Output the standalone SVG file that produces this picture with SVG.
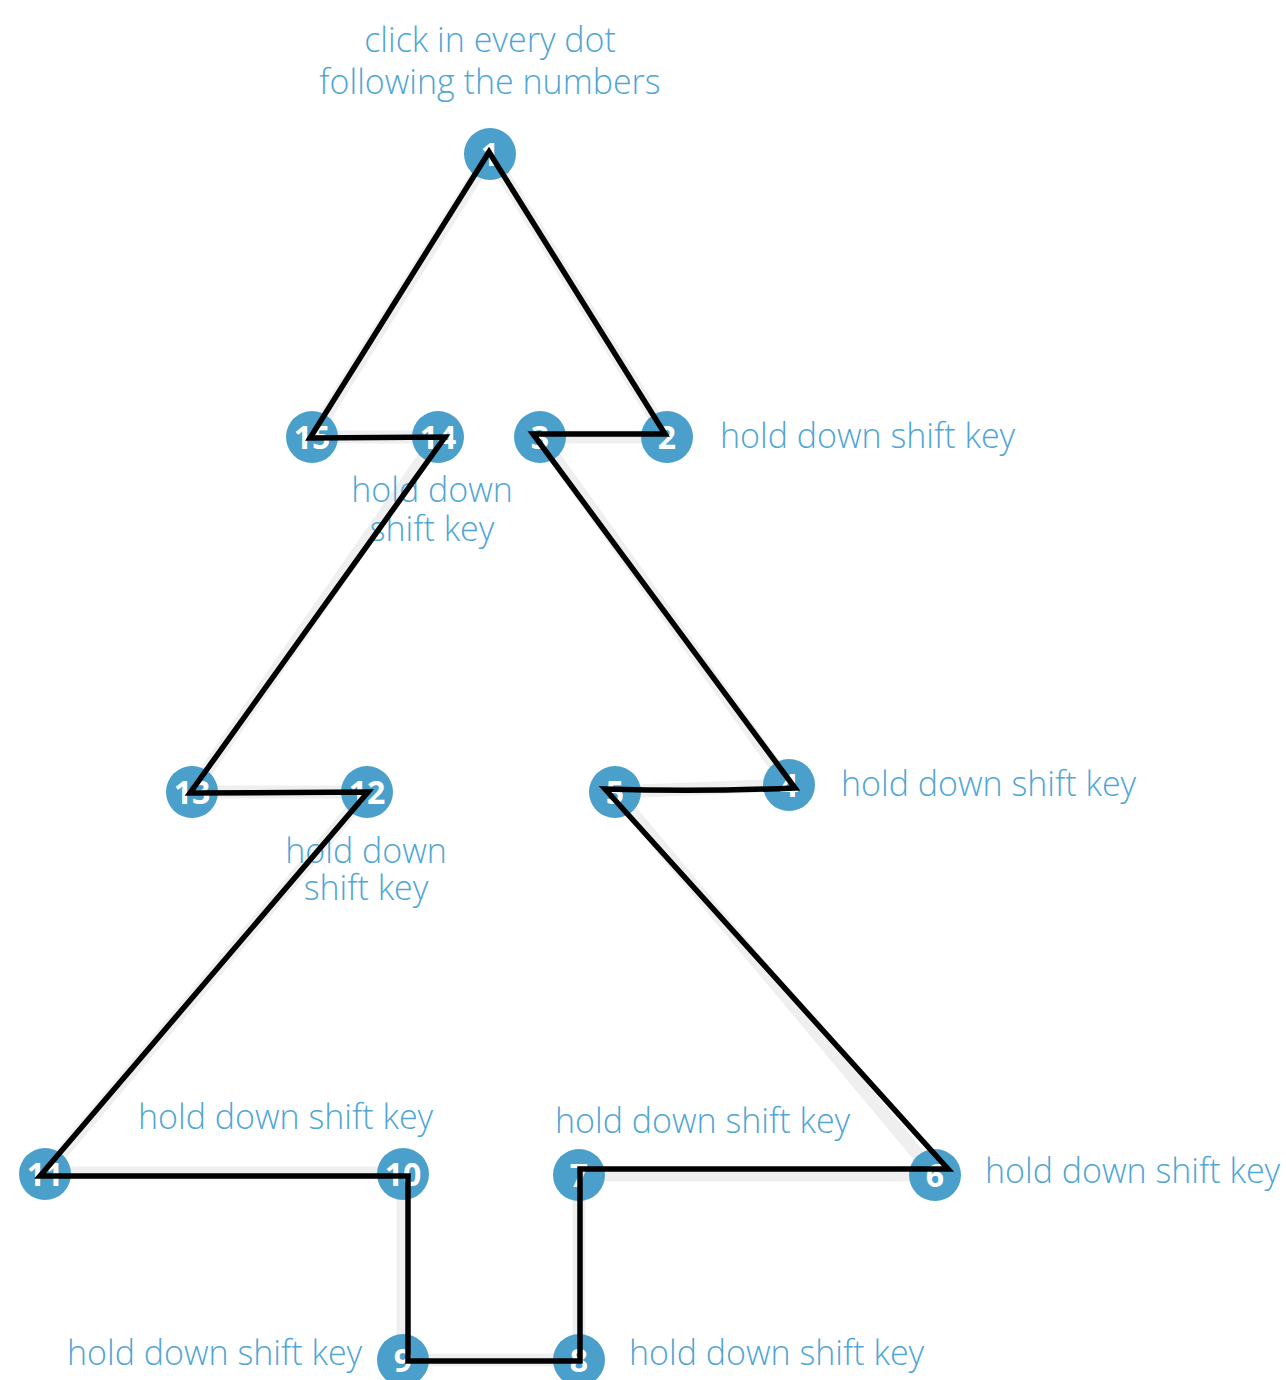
<svg xmlns="http://www.w3.org/2000/svg" width="1286" height="1380" viewBox="0 0 1286 1380">
<style>
.lbl{font-family:"Open Sans","Liberation Sans",sans-serif;font-weight:300;font-size:34px;fill:#4fa6d5}
.dot{fill:#4a9fcb}
.num{font-family:"Open Sans","Liberation Sans",sans-serif;font-weight:700;font-size:32px;fill:#ffffff;text-anchor:middle}
.shadow{fill:none;stroke:#efefef;stroke-width:13;stroke-linejoin:miter}
.pen{fill:none;stroke:#000;stroke-width:5.5;stroke-linejoin:miter;stroke-miterlimit:20}
</style>
<rect width="1286" height="1380" fill="#fff"/>
<g id="shadow">
<path class="shadow" d="M490,154 L667,437 L540,437 L789,785 L615,792 L935,1175 L579,1175 L579,1360 L403,1360 L403,1173 L45,1173 L367,792 L192,792 L438,437 L312,437 Z"/>
</g>
<g id="node1"><circle class="dot" cx="490" cy="154" r="26"/><text class="num" x="490" y="166">1</text></g>
<g id="node2"><circle class="dot" cx="667" cy="437" r="26"/><text class="num" x="667" y="449">2</text></g>
<g id="node3"><circle class="dot" cx="540" cy="437" r="26"/><text class="num" x="540" y="449">3</text></g>
<g id="node4"><circle class="dot" cx="789" cy="785" r="26"/><text class="num" x="789" y="797">4</text></g>
<g id="node5"><circle class="dot" cx="615" cy="792" r="26"/><text class="num" x="615" y="804">5</text></g>
<g id="node6"><circle class="dot" cx="935" cy="1175" r="26"/><text class="num" x="935" y="1187">6</text></g>
<g id="node7"><circle class="dot" cx="579" cy="1175" r="26"/><text class="num" x="579" y="1187">7</text></g>
<g id="node8"><circle class="dot" cx="579" cy="1360" r="26"/><text class="num" x="579" y="1372">8</text></g>
<g id="node9"><circle class="dot" cx="403" cy="1360" r="26"/><text class="num" x="403" y="1372">9</text></g>
<g id="node10"><circle class="dot" cx="403" cy="1174" r="26"/><text class="num" x="403" y="1186">10</text></g>
<g id="node11"><circle class="dot" cx="45" cy="1174" r="26"/><text class="num" x="45" y="1186">11</text></g>
<g id="node12"><circle class="dot" cx="367" cy="792" r="26"/><text class="num" x="367" y="804">12</text></g>
<g id="node13"><circle class="dot" cx="192" cy="792" r="26"/><text class="num" x="192" y="804">13</text></g>
<g id="node14"><circle class="dot" cx="438" cy="437" r="26"/><text class="num" x="438" y="449">14</text></g>
<g id="node15"><circle class="dot" cx="312" cy="437" r="26"/><text class="num" x="312" y="449">15</text></g>
<g id="labels">
<text class="lbl" text-anchor="middle"><tspan x="490" y="52">click in every dot</tspan><tspan x="490" y="94">following the numbers</tspan></text>
<text class="lbl" x="720" y="448">hold down shift key</text>
<text class="lbl" text-anchor="middle"><tspan x="432" y="502">hold down</tspan><tspan x="432" y="541">shift key</tspan></text>
<text class="lbl" x="841" y="796">hold down shift key</text>
<text class="lbl" text-anchor="middle"><tspan x="366" y="863">hold down</tspan><tspan x="366" y="900">shift key</tspan></text>
<text class="lbl" x="138" y="1129">hold down shift key</text>
<text class="lbl" x="555" y="1133">hold down shift key</text>
<text class="lbl" x="985" y="1183">hold down shift key</text>
<text class="lbl" x="67" y="1365">hold down shift key</text>
<text class="lbl" x="629" y="1365">hold down shift key</text>
</g>
<g id="connectors">
<path class="pen" d="M489,152 L665,434 L533,434 L795,788 Q700,792 605,789 L948,1169 L580,1169 L580,1361 L408,1361 L408,1176 L40,1176 L368,792 L190,793 L445,437 L310,438 Z"/>
</g>
</svg>
